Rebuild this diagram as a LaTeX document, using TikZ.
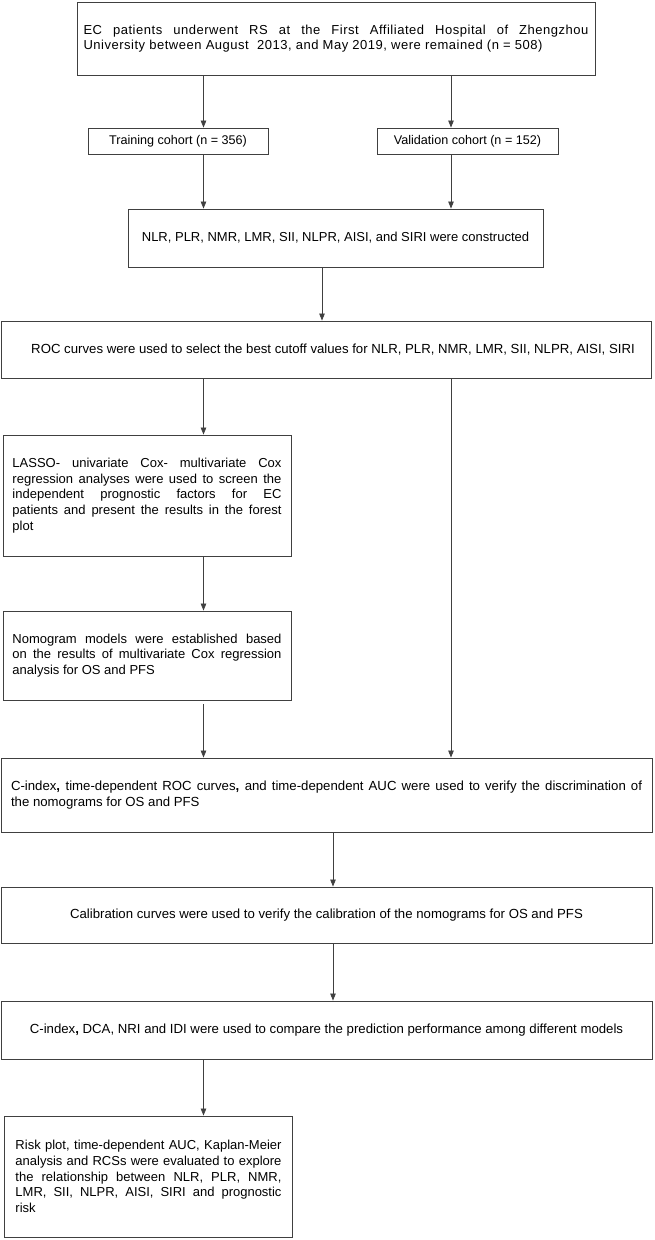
\documentclass[tikz,border=0pt]{standalone}
\usepackage{fontspec}
\setmainfont{Liberation Sans}
\newfontfamily\widefont[LetterSpace=4]{Liberation Sans}
\usetikzlibrary{arrows.meta}
\begin{document}
\begin{tikzpicture}[x=1pt,y=-1pt,
  box/.style={draw=black!75, line width=0.9pt, inner sep=0pt, fill=white},
  bigfont/.style={font=\fontsize{13}{15.6}\selectfont},
  narfont/.style={font=\fontsize{13.2}{16}\selectfont},
  arr/.style={draw=black!75, line width=0.8pt, -{Triangle[width=5.5pt,length=7pt]}}
]
\useasboundingbox (0,0) rectangle (655,1240);
\hyphenpenalty=10000 \exhyphenpenalty=10000
% boxes
\node[box, font=\widefont\fontsize{13}{15.6}\selectfont, minimum width=518pt, minimum height=73pt, text width=505pt, align=justify] (b1) at (336,38.5)
  {EC patients underwent RS at the First Affiliated Hospital of Zhengzhou\linebreak University between August~ 2013, and May 2019, were remained (n = 508)};
\node[box, font=\fontsize{12.6}{15}\selectfont, minimum width=180pt, minimum height=26pt] (train) at (178,141) {Training cohort (n = 356)};
\node[box, font=\fontsize{12.6}{15}\selectfont, minimum width=181pt, minimum height=26pt] (valid) at (467.5,141) {Validation cohort (n = 152)};
\node[box, bigfont, minimum width=415pt, minimum height=58pt] (b3) at (335.5,238) {NLR, PLR, NMR, LMR, SII, NLPR, AISI, and SIRI were constructed};
\node[box, narfont, minimum width=650pt, minimum height=57pt] (roc) at (326,349.5) {\hspace*{14pt}ROC curves were used to select the best cutoff values for NLR, PLR, NMR, LMR, SII, NLPR, AISI, SIRI};
\node[box, bigfont, minimum width=288pt, minimum height=121pt, text width=269pt, align=justify] (lasso) at (147,495.5)
  {LASSO- univariate Cox- multivariate Cox\linebreak regression analyses were used to screen the\linebreak independent prognostic factors for EC\linebreak patients and present the results in the forest\linebreak plot};
\node[box, bigfont, minimum width=288pt, minimum height=89pt, text width=269pt, align=justify] (nomo) at (147,655.5)
  {Nomogram models were established based\linebreak on the results of multivariate Cox regression\linebreak analysis for OS and PFS};
\node[box, narfont, minimum width=651pt, minimum height=74pt, text width=631pt, align=justify] (cidx) at (326.5,795)
  {C-index\textbf{,} time-dependent ROC curves\textbf{,} and time-dependent AUC were used to verify the discrimination of\linebreak the nomograms for OS and PFS};
\node[box, narfont, minimum width=651pt, minimum height=56pt] (calib) at (326.5,915) {Calibration curves were used to verify the calibration of the nomograms for OS and PFS};
\node[box, narfont, minimum width=651pt, minimum height=58pt] (dca) at (326.5,1030) {C-index\textbf{,} DCA, NRI and IDI were used to compare the prediction performance among different models};
\node[box, bigfont, minimum width=288pt, minimum height=121pt, text width=266pt, align=justify] (risk) at (148.5,1176.5)
  {Risk plot, time-dependent AUC, Kaplan-Meier\linebreak analysis and RCSs were evaluated to explore\linebreak the relationship between NLR, PLR, NMR,\linebreak LMR, SII, NLPR, AISI, SIRI and prognostic\linebreak risk};
% x positions of connectors
\coordinate (xl) at (203.5,0);
\coordinate (xr) at (451,0);
\coordinate (xm) at (322,0);
\coordinate (xc) at (333,0);
% connectors
\draw[arr] (b1.south -| xl) -- (train.north -| xl);
\draw[arr] (b1.south -| xr) -- (valid.north -| xr);
\draw[arr] (train.south -| xl) -- (b3.north -| xl);
\draw[arr] (valid.south -| xr) -- (b3.north -| xr);
\draw[arr] (b3.south -| xm) -- (roc.north -| xm);
\draw[arr] (roc.south -| xl) -- (lasso.north -| xl);
\draw[arr] (roc.south -| xr) -- (cidx.north -| xr);
\draw[arr] (lasso.south -| xl) -- (nomo.north -| xl);
\draw[arr, shorten <=4pt] (nomo.south -| xl) -- (cidx.north -| xl);
\draw[arr] (cidx.south -| xc) -- (calib.north -| xc);
\draw[arr] (calib.south -| xc) -- (dca.north -| xc);
\draw[arr] (dca.south -| xl) -- (risk.north -| xl);
\end{tikzpicture}
\end{document}
